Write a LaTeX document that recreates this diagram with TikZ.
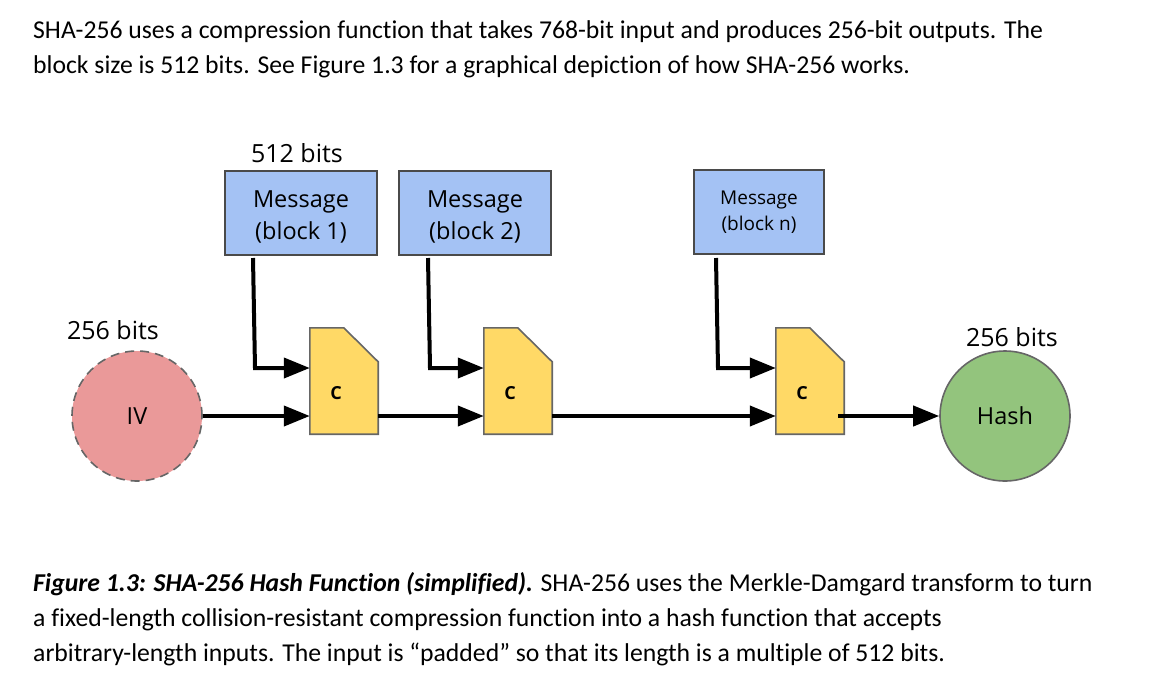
\documentclass[tikz,border=0pt]{standalone}
\usepackage{fontspec}
\setmainfont{Carlito}[Ligatures=NoCommon]
\newfontfamily\dfont{Open Sans}
\usetikzlibrary{arrows.meta}
\definecolor{msgblue}{HTML}{A4C2F4}
\definecolor{cyellow}{HTML}{FFD966}
\definecolor{ivred}{HTML}{EA9999}
\definecolor{hashgreen}{HTML}{93C47D}
\definecolor{edgegray}{HTML}{666666}
\definecolor{boxedge}{HTML}{4A4A4A}
\begin{document}
\begin{tikzpicture}[x=1pt,y=-1pt,
  >={Triangle[length=26pt,width=20pt]},
  body/.style={anchor=base west,inner sep=0,font=\fontsize{25.7}{30}\selectfont},
  bits/.style={inner sep=0,font=\fontsize{25}{30}\dfont},
  msgbox/.style={draw=boxedge,fill=msgblue,line width=1.4pt,inner sep=0,
    minimum height=84pt},
  msgtext/.style={inner sep=0,align=center},
  cbox/.style={inner sep=0,minimum width=68pt,minimum height=106pt},
  cshape/.style={draw=edgegray,fill=cyellow,line width=1.6pt,line join=miter},
  ctext/.style={font=\fontsize{18}{20}\dfont\bfseries},
  circ/.style={circle,draw=edgegray,line width=1.6pt,minimum size=130pt,inner sep=0,
    font=\fontsize{23.5}{28}\dfont},
  flow/.style={->,line width=4pt,line join=miter}]
\useasboundingbox (0,0) rectangle (1149,681);

% introductory text
\node[body] (t1) at (33,38) {SHA-256 uses a compression function that takes 768-bit input and produces 256-bit outputs. The};
\node[body] (t2) at (33,73) {block size is 512 bits. See Figure 1.3 for a graphical depiction of how SHA-256 works.};

% message blocks
\node[msgbox,minimum width=152pt] (m1) at (301,213) {};
\node[msgbox,minimum width=152pt] (m2) at (475,213) {};
\node[msgbox,minimum width=130pt] (mn) at (759,212) {};
\node[msgtext,font=\fontsize{23.5}{32}\dfont] (m1t) at (301,217) {Message\\(block 1)};
\node[msgtext,font=\fontsize{23.5}{32}\dfont] (m2t) at (475,217) {Message\\(block 2)};
\node[msgtext,font=\fontsize{19}{26}\dfont] (mnt) at (759,212) {Message\\(block n)};
\node[bits] (l512) at (297,153) {512 bits};

% compression function boxes
\foreach \n/\x in {c1/344,c2/518,cn/810}{
  \node[cbox] (\n) at (\x,381) {};
  \draw[cshape] (\n.south west) -- (\n.north west) -- ([xshift=34pt]\n.north west)
    -- ([yshift=-34pt]\n.north east) -- (\n.south east) -- cycle;
  \node[ctext] at ([xshift=-8pt,yshift=-12pt]\n.center) {C};
}

% chaining value and output
\node[circ,fill=ivred,dashed,dash pattern=on 9pt off 6pt] (iv) at (137,416) {IV};
\node[bits] (l256a) at (113,330) {256 bits};
\node[circ,fill=hashgreen] (hash) at (1005,416) {Hash};
\node[bits] (l256b) at (1012,337) {256 bits};

% message inputs
\coordinate (m1a) at (253,258); \coordinate (m1b) at (255,368);
\coordinate (m2a) at (428,258); \coordinate (m2b) at (430,368);
\coordinate (mna) at (716,258); \coordinate (mnb) at (718,368);
\draw[flow] (m1a) -- (m1b) -- (m1b -| c1.west);
\draw[flow] (m2a) -- (m2b) -- (m2b -| c2.west);
\draw[flow] (mna) -- (mnb) -- (mnb -| cn.west);

% chaining arrows
\draw[flow] (iv.east) -- (iv.east -| c1.west);
\draw[flow] ([yshift=-35pt]c1.east) -- ([yshift=-35pt]c2.west);
\draw[flow] ([yshift=-35pt]c2.east) -- ([yshift=-35pt]cn.west);
\draw[flow] ([xshift=-6pt,yshift=-35pt]cn.east) -- (hash.west);

% caption
\node[body] (cap1) at (33,591) {\textbf{\textit{Figure 1.3: SHA-256 Hash Function (simplified).}} SHA-256 uses the Merkle-Damgard transform to turn};
\node[body] (cap2) at (33,626) {a fixed-length collision-resistant compression function into a hash function that accepts};
\node[body] (cap3) at (33,661) {arbitrary-length inputs. The input is “padded” so that its length is a multiple of 512 bits.};
\end{tikzpicture}
\end{document}
